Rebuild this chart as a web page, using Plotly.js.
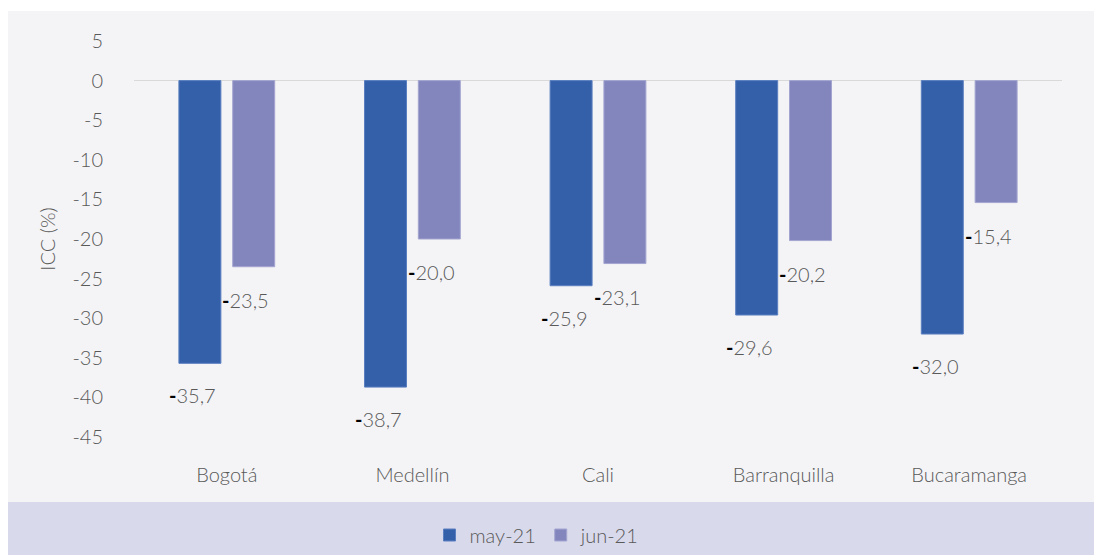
<!DOCTYPE html>
<html>
<head>
<meta charset="utf-8">
<script src="https://cdn.plot.ly/plotly-3.0.1.min.js"></script>
<style>html,body{margin:0;padding:0;background:#fff;overflow:hidden;}#chart{width:1094px;height:555px;}</style>
</head>
<body>
<div id="chart"></div>
<script>
const categories = ["Bogotá", "Medellín", "Cali", "Barranquilla", "Bucaramanga"];
const may21 = [-35.7, -38.7, -25.9, -29.6, -32.0];
const jun21 = [-23.5, -20.0, -23.1, -20.2, -15.4];
const seriesNames = ["may-21", "jun-21"];
const yTicks = [5, 0, -5, -10, -15, -20, -25, -30, -35, -40, -45];

const FONT = "Lato, 'Open Sans', sans-serif";
const TXT = "#595959";
const FS = 20;
const FW = 300;

function fmt(v) {
  return '<span style="color:#000;font-weight:bold">-</span>' + Math.abs(v).toFixed(1).replace('.', ',');
}

const traces = [
  {type: 'bar', name: seriesNames[0], x: categories, y: may21, marker: {color: '#3460aa', line: {color: '#5a7fc0', width: 1}}, hoverinfo: 'none'},
  {type: 'bar', name: seriesNames[1], x: categories, y: jun21, marker: {color: '#8386bd', line: {color: '#a3a5d0', width: 1}}, hoverinfo: 'none'}
];

const annotations = [];
categories.forEach((c, i) => {
  annotations.push({x: c, y: may21[i], xref: 'x', yref: 'y', text: fmt(may21[i]), showarrow: false,
    xshift: -34, yshift: -32, yanchor: 'middle', xanchor: 'center', font: {family: FONT, size: FS, color: TXT, weight: FW}});
  annotations.push({x: c, y: jun21[i], xref: 'x', yref: 'y', text: fmt(jun21[i]), showarrow: false,
    xshift: 19, yshift: -33, yanchor: 'middle', xanchor: 'center', font: {family: FONT, size: FS, color: TXT, weight: FW}});
});

const L = 134, R = 32, T = 41, B = 118, W = 1094, H = 555;
const pw = W - L - R, ph = H - T - B;
const px = v => (v - L) / pw;
const py = v => (H - B - v) / ph;

const layout = {
  width: W, height: H,
  margin: {l: L, r: R, t: T, b: B, pad: 0, autoexpand: false},
  paper_bgcolor: '#ffffff',
  plot_bgcolor: 'rgba(0,0,0,0)',
  font: {family: FONT, size: FS, color: TXT, weight: FW},
  barmode: 'group',
  bargap: 0.42,
  bargroupgap: 0.22,
  showlegend: true,
  legend: {orientation: 'h', x: px(537), xanchor: 'center', y: py(535), yanchor: 'middle',
    font: {family: FONT, size: FS, color: TXT, weight: FW}, bgcolor: 'rgba(0,0,0,0)', itemwidth: 30, traceorder: 'normal'},
  xaxis: {type: 'category', showgrid: false, zeroline: false, showline: false, ticks: '', automargin: false,
    tickfont: {family: FONT, size: FS, color: TXT, weight: FW}, ticklabelstandoff: 24, fixedrange: true},
  yaxis: {range: [-45, 5], tickvals: yTicks, ticktext: yTicks.map(String), showgrid: false, automargin: false,
    zeroline: true, zerolinecolor: '#d9d9d9', zerolinewidth: 1, showline: false, ticks: '',
    tickfont: {family: FONT, size: FS, color: TXT, weight: FW}, ticklabelstandoff: 30,
    title: {text: 'ICC (%)', font: {family: FONT, size: FS, color: TXT, weight: FW}, standoff: 11}, fixedrange: true},
  shapes: [
    {type: 'rect', xref: 'paper', yref: 'paper', x0: px(8), x1: px(1094), y0: py(502), y1: py(11),
      fillcolor: '#f4f4f6', line: {width: 0}, layer: 'below'},
    {type: 'rect', xref: 'paper', yref: 'paper', x0: px(8), x1: px(1094), y0: py(556), y1: py(502),
      fillcolor: '#d9d9ec', line: {width: 0}, layer: 'below'}
  ],
  annotations: annotations
};

Plotly.newPlot('chart', traces, layout, {displayModeBar: false, staticPlot: true});
</script>
</body>
</html>
